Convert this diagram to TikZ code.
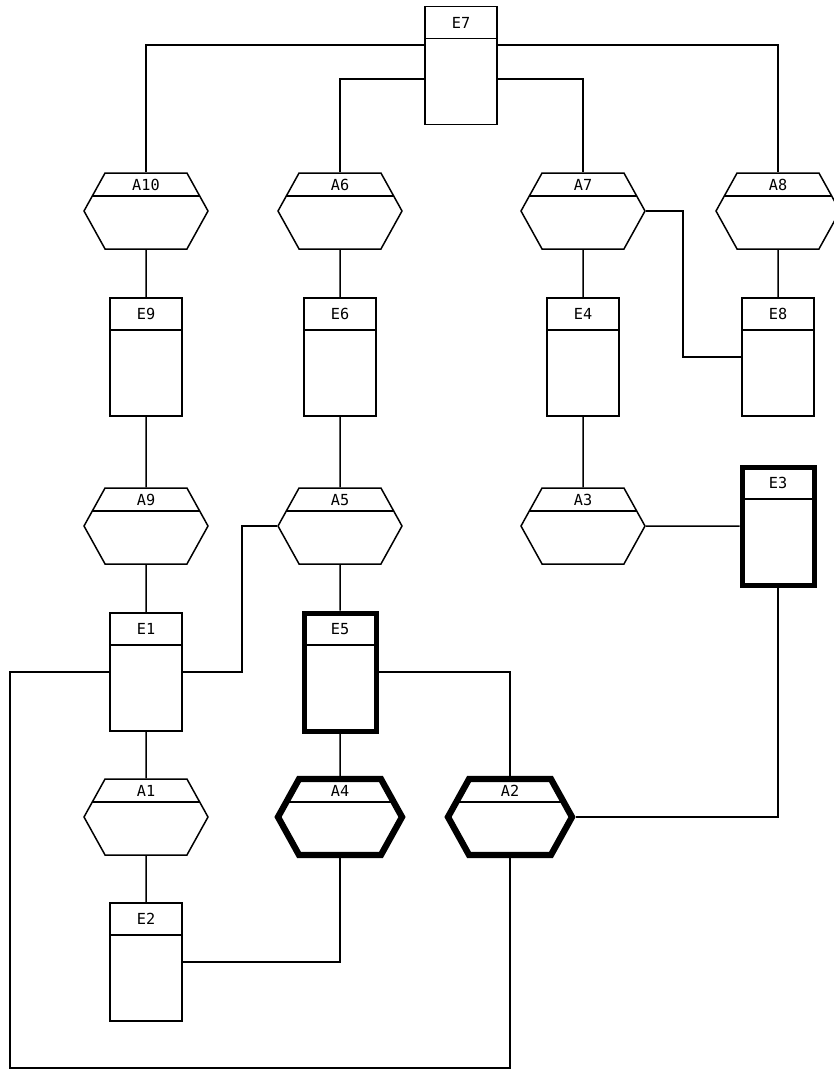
\documentclass[tikz,border=0pt]{standalone}
\usepackage{fontspec}
\newfontfamily\boxfont{DejaVu Sans Mono}
\usepackage{tikz}
\usetikzlibrary{shapes.symbols, calc}

\begin{document}
\begin{tikzpicture}[x=0.3mm, y=-0.3mm,
  entity/.style={draw, rectangle, line width=#1, minimum width=21.6mm,
                 inner xsep=0pt, inner ysep=3.15mm, text height=3.3mm, text depth=25.8mm,
                 font={\boxfont\fontsize{13}{15}\selectfont},
                 path picture={\draw[line width=0.6*\pgflinewidth+0.2mm]
                   ([yshift=-9.6mm]path picture bounding box.north west)
                   -- ([yshift=-9.6mm]path picture bounding box.north east);}},
  entity/.default=0.45mm,
  action/.style={draw, signal, signal to=west and east, signal pointer angle=122,
                 line width=#1, minimum width=37.2mm, minimum height=22.8mm,
                 inner xsep=0pt, inner ysep=1.8mm, text height=3.3mm, text depth=15.9mm,
                 font={\boxfont\fontsize{13}{15}\selectfont},
                 path picture={\draw[line width=0.4*\pgflinewidth+0.3mm]
                   ([yshift=-6.9mm]path picture bounding box.north west)
                   -- ([yshift=-6.9mm]path picture bounding box.north east);}},
  action/.default=0.45mm,
  link/.style={line width=0.45mm}
]
  \useasboundingbox (0,0) rectangle (834,1073);
  \node[entity] (E7) at (461,65.5) {E7};
  \node[action] (A10) at (146,211) {A10};
  \node[action] (A6) at (340,211) {A6};
  \node[action] (A7) at (583,211) {A7};
  \node[action] (A8) at (778,211) {A8};
  \node[entity] (E9) at (146,357) {E9};
  \node[entity] (E6) at (340,357) {E6};
  \node[entity] (E4) at (583,357) {E4};
  \node[entity] (E8) at (778,357) {E8};
  \node[action] (A9) at (146,526) {A9};
  \node[action] (A5) at (340,526) {A5};
  \node[action] (A3) at (583,526) {A3};
  \node[entity=1.5mm] (E3) at (778,526) {E3};
  \node[entity] (E1) at (146,672) {E1};
  \node[entity=1.5mm] (E5) at (340,672) {E5};
  \node[action] (A1) at (146,817) {A1};
  \node[action=1.9mm] (A4) at (340,817) {A4};
  \node[action=1.9mm] (A2) at (510,817) {A2};
  \node[entity] (E2) at (146,962) {E2};
  \coordinate (loop) at (10,1068);

  \draw[link] ($(E7.north west)+(0,39)$) -| (A10.north);
  \draw[link] ($(E7.north east)+(0,39)$) -| (A8.north);
  \draw[link] ($(E7.north west)+(0,73)$) -| (A6.north);
  \draw[link] ($(E7.north east)+(0,73)$) -| (A7.north);
  \draw[link] (A10) -- (E9) -- (A9) -- (E1) -- (A1) -- (E2);
  \draw[link] (A6) -- (E6) -- (A5) -- (E5) -- (A4);
  \draw[link] (A7) -- (E4) -- (A3);
  \draw[link] (A8) -- (E8);
  \draw[link] (A7.east) -- ++(37,0) |- (E8.west);
  \draw[link] (A3) -- (E3);
  \draw[link] (E3.south) |- (A2.east);
  \draw[link] (A5.west) -- ++(-35,0) |- (E1.east);
  \draw[link] (E5.east) -| (A2.north);
  \draw[link] (A4.south) |- (E2.east);
  \draw[link] (E1.west) -| (loop) -| (A2.south);
\end{tikzpicture}
\end{document}
